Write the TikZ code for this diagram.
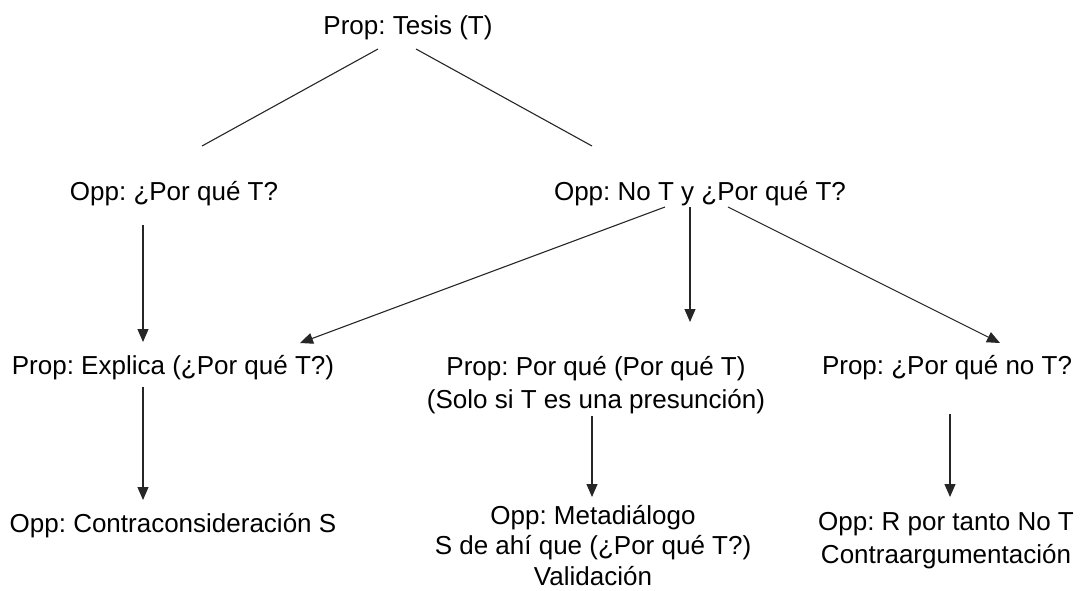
\documentclass[tikz,border=0pt]{standalone}
\usepackage{fontspec}
\setmainfont{Liberation Sans}
\usetikzlibrary{arrows.meta,calc}
\frenchspacing
\begin{document}
\begin{tikzpicture}[x=1pt,y=-1pt,
  lbl/.style={inner sep=0pt,anchor=base,align=center,font=\fontsize{26}{33}\selectfont},
  ln/.style={line width=1.1pt,draw=black!85},
  arr/.style={ln,-{Triangle[length=13pt,width=11pt]}}]
\useasboundingbox (0,0) rectangle (1084,591);
\node[lbl] (t) at (408,35) {Prop: Tesis (T)};
\node[lbl] (ol) at (174,200) {Opp: ¿Por qué T?};
\node[lbl] (or) at (700,200) {Opp: No T y ¿Por qué T?};
\node[lbl] (pl) at (173,374) {Prop: Explica (¿Por qué T?)};
\node[lbl,anchor=north] (pm) at (596,356) {Prop: Por qué (Por qué T)\\(Solo si T es una presunción)};
\node[lbl] (pr) at (947,374) {Prop: ¿Por qué no T?};
\node[lbl] (cl) at (173,532) {Opp: Contraconsideración S};
\node[lbl,anchor=north,font=\fontsize{26}{30.5}\selectfont] (mm) at (593,505) {Opp: Metadiálogo\\S de ahí que (¿Por qué T?)\\Validación};
\node[lbl,anchor=north] (rr) at (946,512) {Opp: R por tanto No T\\Contraargumentación};
\draw[ln] ($(t.base)+(-30,14)$) -- ($(ol.base)+(28,-54)$);
\draw[ln] ($(t.base)+(8,14)$) -- ($(or.base)+(-108,-54)$);
\draw[arr] ($(ol.base)+(-31,25)$) -- ($(pl.base)+(-30,-32)$);
\draw[arr] ($(or.base)+(-35,7)$) -- ($(pl.base)+(127,-31)$);
\draw[arr] ($(or.base)+(-10,7)$) -- ($(pm.north)+(94,-34)$);
\draw[arr] ($(or.base)+(28,7)$) -- ($(pr.base)+(53,-31)$);
\draw[arr] ($(pl.base)+(-30,13)$) -- ($(cl.base)+(-30,-32)$);
\draw[arr] ($(pm.south)+(-4,2)$) -- ($(mm.north)+(-1,-8)$);
\draw[arr] ($(pr.base)+(3,40)$) -- ($(rr.north)+(4,-15)$);
\end{tikzpicture}
\end{document}
